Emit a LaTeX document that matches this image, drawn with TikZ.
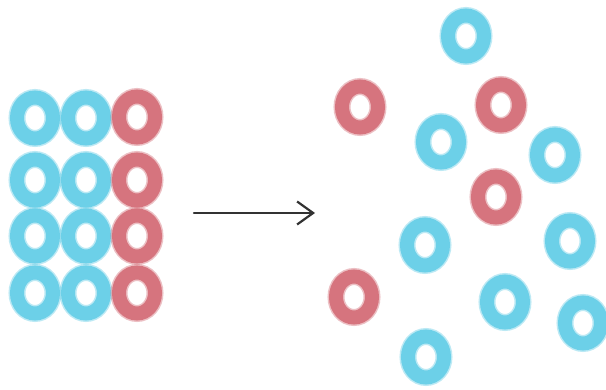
\documentclass[tikz,border=0pt]{standalone}
\usetikzlibrary{shapes.geometric,arrows.meta}
\definecolor{ringblue}{RGB}{108,208,232}
\definecolor{ringred}{RGB}{214,116,126}
\definecolor{arrowgray}{RGB}{50,50,50}
\tikzset{
  ring/.style={ellipse, minimum width=36pt, minimum height=41pt, inner sep=0pt,
    line width=14pt, draw=#1,
    preaction={draw=#1, line width=17pt, draw opacity=0.45}},
  bring/.style={ring=ringblue},
  rring/.style={ring=ringred},
  flow/.style={draw=arrowgray, line width=2.2pt, line cap=round,
    -{Straight Barb[length=16pt,width=23pt,line width=2.2pt]}}
}
\begin{document}
\begin{tikzpicture}[x=1pt,y=-1pt]
\useasboundingbox[fill=white] (0,0) rectangle (606,390);
% left grid
\node[bring] (a11) at (35,118) {};
\node[bring] (a12) at (86,118) {};
\node[rring] (a13) at (137,117) {};
\node[bring] (a21) at (35,180) {};
\node[bring] (a22) at (86,180) {};
\node[rring] (a23) at (137,180) {};
\node[bring] (a31) at (35,236) {};
\node[bring] (a32) at (86,236) {};
\node[rring] (a33) at (137,236) {};
\node[bring] (a41) at (35,293) {};
\node[bring] (a42) at (86,293) {};
\node[rring] (a43) at (137,293) {};
% arrow
\coordinate (s) at (194,213);
\coordinate (e) at (315,213);
\draw[flow] (s) -- (e);
% scattered
\node[bring] (b1) at (466,36) {};
\node[rring] (b2) at (360,107) {};
\node[rring] (b3) at (501,105) {};
\node[bring] (b4) at (441,142) {};
\node[bring] (b5) at (555,155) {};
\node[rring] (b6) at (496,197) {};
\node[bring] (b7) at (425,245) {};
\node[bring] (b8) at (570,241) {};
\node[rring] (b9) at (354,297) {};
\node[bring] (b10) at (505,302) {};
\node[bring] (b11) at (583,323) {};
\node[bring] (b12) at (426,357) {};
\end{tikzpicture}
\end{document}
